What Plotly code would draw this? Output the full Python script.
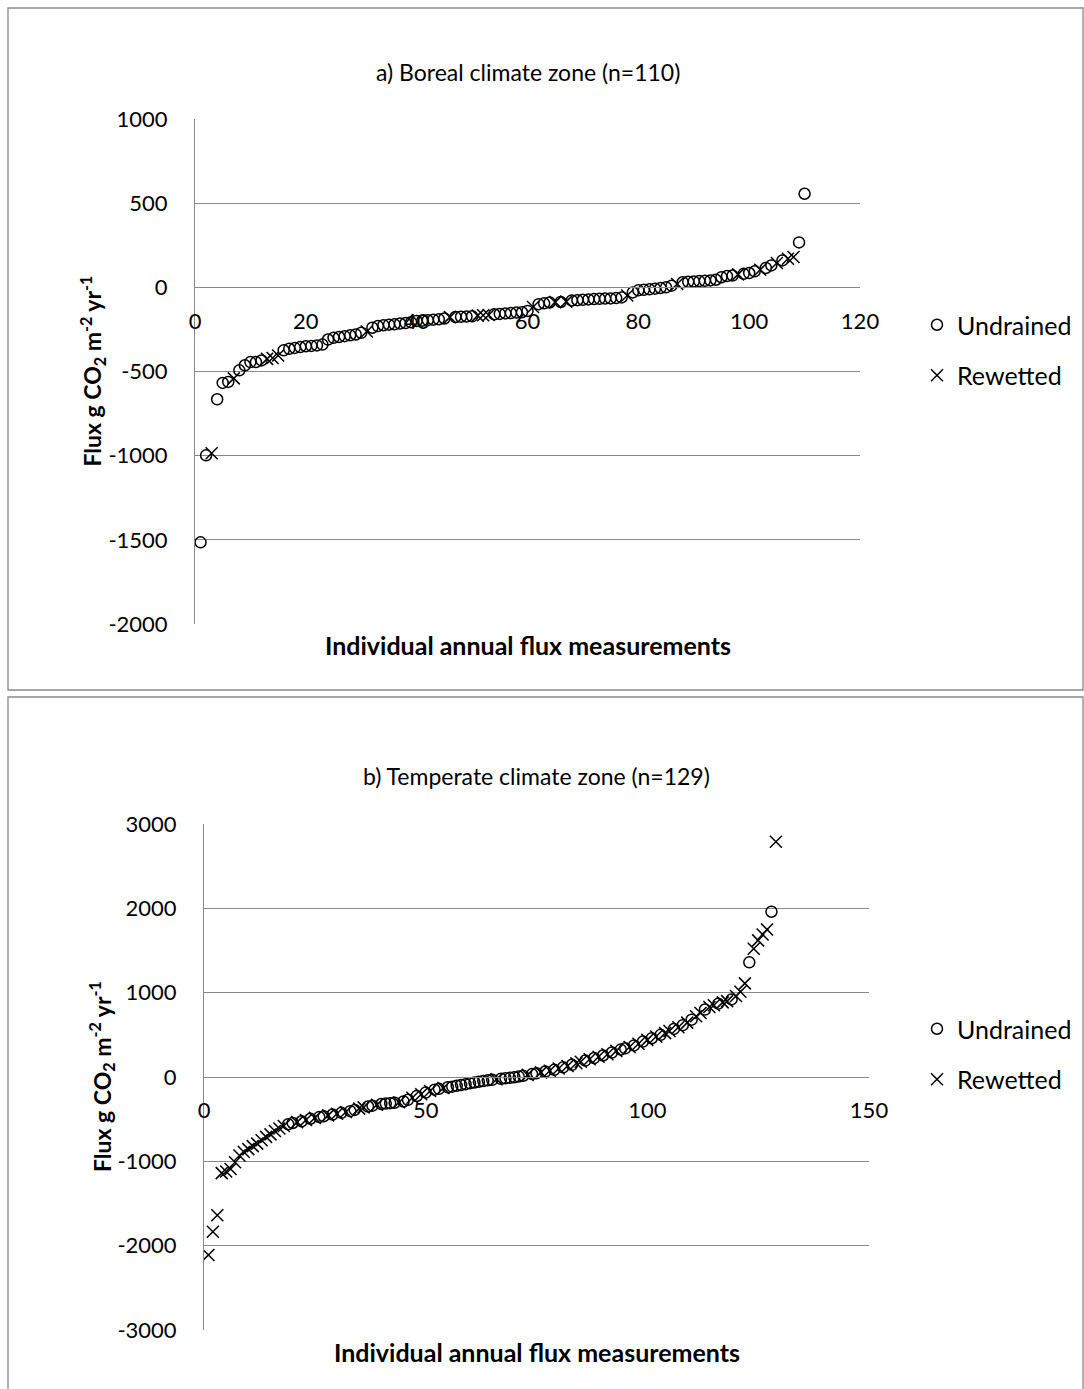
import plotly.graph_objects as go

W, H = 1084, 1389

# ---------------- data (ranked annual fluxes, g CO2 m-2 yr-1) ----------------
boreal_flux = [
    -1515, -998, -986, -665, -568, -562, -541, -493, -463, -444,
    -444, -434, -425, -420, -405, -374, -365, -360, -355, -350,
    -348, -345, -340, -310, -300, -295, -290, -285, -280, -270,
    -262, -240, -230, -225, -222, -220, -215, -212, -208, -200,
    -198, -195, -192, -190, -185, -177, -176, -175, -174, -172,
    -168, -166, -164, -160, -158, -155, -153, -150, -148, -140,
    -117, -100, -95, -90, -88, -87, -85, -78, -76, -74,
    -72, -70, -68, -67, -66, -64, -60, -48, -30, -18,
    -15, -12, -8, -4, 0, 10, 20, 30, 33, 35,
    37, 39, 41, 45, 60, 67, 70, 77, 80, 85,
    95, 105, 115, 130, 145, 160, 170, 180, 267, 556,
]
boreal_group = list(
    "UURUUURUUU" "UURRRUUUUU" "UUUUUUUUUU" "RUUUUUUUUU" "UUUUURUUUU"
    "RRRUUUUUUU" "RUUURURUUU" "UUUUUUURUU" "UUUUUURUUU" "UUUUUUURUU"
    "URUURURRUU"
)

temperate_flux = [
    -2110, -1835, -1640, -1140, -1120, -1090, -1010, -930, -890, -855,
    -820, -790, -750, -710, -680, -640, -610, -580, -560, -545,
    -535, -525, -510, -495, -485, -475, -465, -455, -445, -435,
    -425, -415, -405, -390, -375, -360, -350, -340, -330, -320,
    -315, -310, -305, -300, -290, -270, -245, -225, -205, -185,
    -165, -150, -140, -130, -122, -115, -105, -95, -85, -75,
    -65, -56, -48, -40, -33, -27, -21, -16, -10, -3,
    5, 15, 25, 35, 43, 55, 65, 75, 85, 100,
    115, 130, 145, 162, 180, 195, 210, 225, 240, 255,
    270, 290, 310, 325, 340, 355, 375, 395, 420, 440,
    460, 480, 500, 520, 545, 570, 590, 615, 645, 680,
    720, 760, 800, 830, 850, 870, 885, 900, 920, 960,
    1010, 1110, 1360, 1520, 1620, 1690, 1750, 1960, 2790,
]
temperate_group = list(
    "RRRRRRRRRRRRRRRRRR" "UURURURUURUR" "URUURRUURU" "UUURUURURU"
    "RUURUUUUUU" "UUUUURUUUU" "UURUURURUR" "URURRURURU" "RURUURURUR"
    "URURRURURU" "RRURRURRURR" "RURRRRUR"
)

series_names = {"U": "Undrained", "R": "Rewetted"}

boreal_title = "a) Boreal climate zone (n=110)"
temperate_title = "b) Temperate climate zone (n=129)"
y_title = "<b>Flux g CO<sub>2</sub> m<sup>-2</sup> yr<sup>-1</sup></b>"
x_title = "<b>Individual annual flux measurements</b>"

boreal_xticks = [0, 20, 40, 60, 80, 100, 120]
boreal_yticks = [-2000, -1500, -1000, -500, 0, 500, 1000]
boreal_yticktext = ["-2000", "-1500", "-1000", "-500", "0", "500", "1000"]
temperate_xticks = [0, 50, 100, 150]
temperate_yticks = [-3000, -2000, -1000, 0, 1000, 2000, 3000]
temperate_yticktext = ["-3000", "-2000", "-1000", "0", "1000", "2000", "3000"]

# ---------------- styling ----------------
FONT = "Lato, Carlito, Calibri, sans-serif"
GRID = "#898989"

marker_style = {
    "U": dict(symbol="circle-open", size=11, color="black", line=dict(width=1.5, color="black")),
    "R": dict(symbol="x-thin-open", size=12, color="black", line=dict(width=1.5, color="black")),
}


def px_x(p):
    return p / W


def px_y(p):
    return 1 - p / H


fig = go.Figure()

panels = [
    dict(flux=boreal_flux, group=boreal_group, xa="x", ya="y", legend="legend",
         xdom=(195, 860), ydom=(119, 624), xticks=boreal_xticks, yticks=boreal_yticks,
         yticktext=boreal_yticktext,
         title=boreal_title, title_y=72, box=(8, 8, 1083, 690), legend_y=350,
         xtitle_y=645, ytitle_x=92),
    dict(flux=temperate_flux, group=temperate_group, xa="x2", ya="y2", legend="legend2",
         xdom=(204, 869), ydom=(824, 1330), xticks=temperate_xticks, yticks=temperate_yticks,
         yticktext=temperate_yticktext,
         title=temperate_title, title_y=776, box=(8, 697, 1083, 1392), legend_y=1054,
         xtitle_y=1352, ytitle_x=101),
]

annotations = []
shapes = []
layout_axes = {}

for i, pn in enumerate(panels):
    ranks = list(range(1, len(pn["flux"]) + 1))
    for g in ["U", "R"]:
        xs = [r for r, t in zip(ranks, pn["group"]) if t == g]
        ys = [v for v, t in zip(pn["flux"], pn["group"]) if t == g]
        fig.add_trace(go.Scatter(
            x=xs, y=ys, mode="markers", name=series_names[g],
            marker=marker_style[g], xaxis=pn["xa"], yaxis=pn["ya"],
            legend=pn["legend"], legendgroup=f"{pn['legend']}_{g}",
            showlegend=True,
        ))

    xd = [px_x(pn["xdom"][0]), px_x(pn["xdom"][1])]
    yd = [px_y(pn["ydom"][1]), px_y(pn["ydom"][0])]
    ymin, ymax = pn["yticks"][0], pn["yticks"][-1]
    zero_pos = yd[0] + (0 - ymin) / (ymax - ymin) * (yd[1] - yd[0])

    xkey = "xaxis" if i == 0 else "xaxis2"
    ykey = "yaxis" if i == 0 else "yaxis2"
    layout_axes[xkey] = dict(
        domain=xd, range=[pn["xticks"][0], pn["xticks"][-1]],
        tickvals=pn["xticks"], showgrid=False, zeroline=False,
        showline=True, linecolor=GRID, linewidth=1,
        anchor="free", position=zero_pos, ticks="",
        ticklabelstandoff=14, automargin=False,
        tickfont=dict(family=FONT, size=22, color="black"),
    )
    layout_axes[ykey] = dict(
        domain=yd, range=[ymin, ymax], tickvals=pn["yticks"], ticktext=pn["yticktext"],
        showgrid=True, gridcolor=GRID, gridwidth=1, zeroline=False,
        showline=True, linecolor=GRID, linewidth=1, ticks="",
        anchor=pn["xa"], ticklabelstandoff=22, automargin=False,
        tickfont=dict(family=FONT, size=22, color="black"),
    )

    # chart title
    annotations.append(dict(
        text=pn["title"], x=(xd[0] + xd[1]) / 2, y=px_y(pn["title_y"]),
        xref="paper", yref="paper", showarrow=False, xanchor="center", yanchor="middle",
        font=dict(family=FONT, size=23, color="black"),
    ))
    # x axis title
    annotations.append(dict(
        text=x_title, x=(xd[0] + xd[1]) / 2, y=px_y(pn["xtitle_y"]),
        xref="paper", yref="paper", showarrow=False, xanchor="center", yanchor="middle",
        font=dict(family=FONT, size=25, color="black"),
    ))
    # y axis title
    annotations.append(dict(
        text=y_title, x=px_x(pn["ytitle_x"]), y=(yd[0] + yd[1]) / 2,
        xref="paper", yref="paper", showarrow=False, xanchor="center", yanchor="middle",
        textangle=-90, font=dict(family=FONT, size=23, color="black"),
    ))
    # chart border
    bx0, by0, bx1, by1 = pn["box"]
    shapes.append(dict(
        type="rect", xref="paper", yref="paper",
        x0=px_x(bx0), x1=px_x(bx1), y0=px_y(by1), y1=px_y(by0),
        line=dict(color=GRID, width=1.3), fillcolor="rgba(0,0,0,0)",
    ))

    layout_axes[pn["legend"]] = dict(
        x=px_x(917), y=px_y(pn["legend_y"]), xanchor="left", yanchor="middle",
        bgcolor="rgba(0,0,0,0)", tracegroupgap=15, itemwidth=30,
        font=dict(family=FONT, size=25, color="black"),
    )

fig.update_layout(
    width=W, height=H, margin=dict(l=0, r=0, t=0, b=0, autoexpand=False),
    paper_bgcolor="white", plot_bgcolor="white",
    annotations=annotations, shapes=shapes, showlegend=True,
    **layout_axes,
)

# remove the browser's default 8px body margin so the figure fills the window exactly
fig.write_html(
    "out.html",
    config={"displayModeBar": False},
    post_script="document.body.style.margin='0';document.body.style.overflow='hidden';",
)
